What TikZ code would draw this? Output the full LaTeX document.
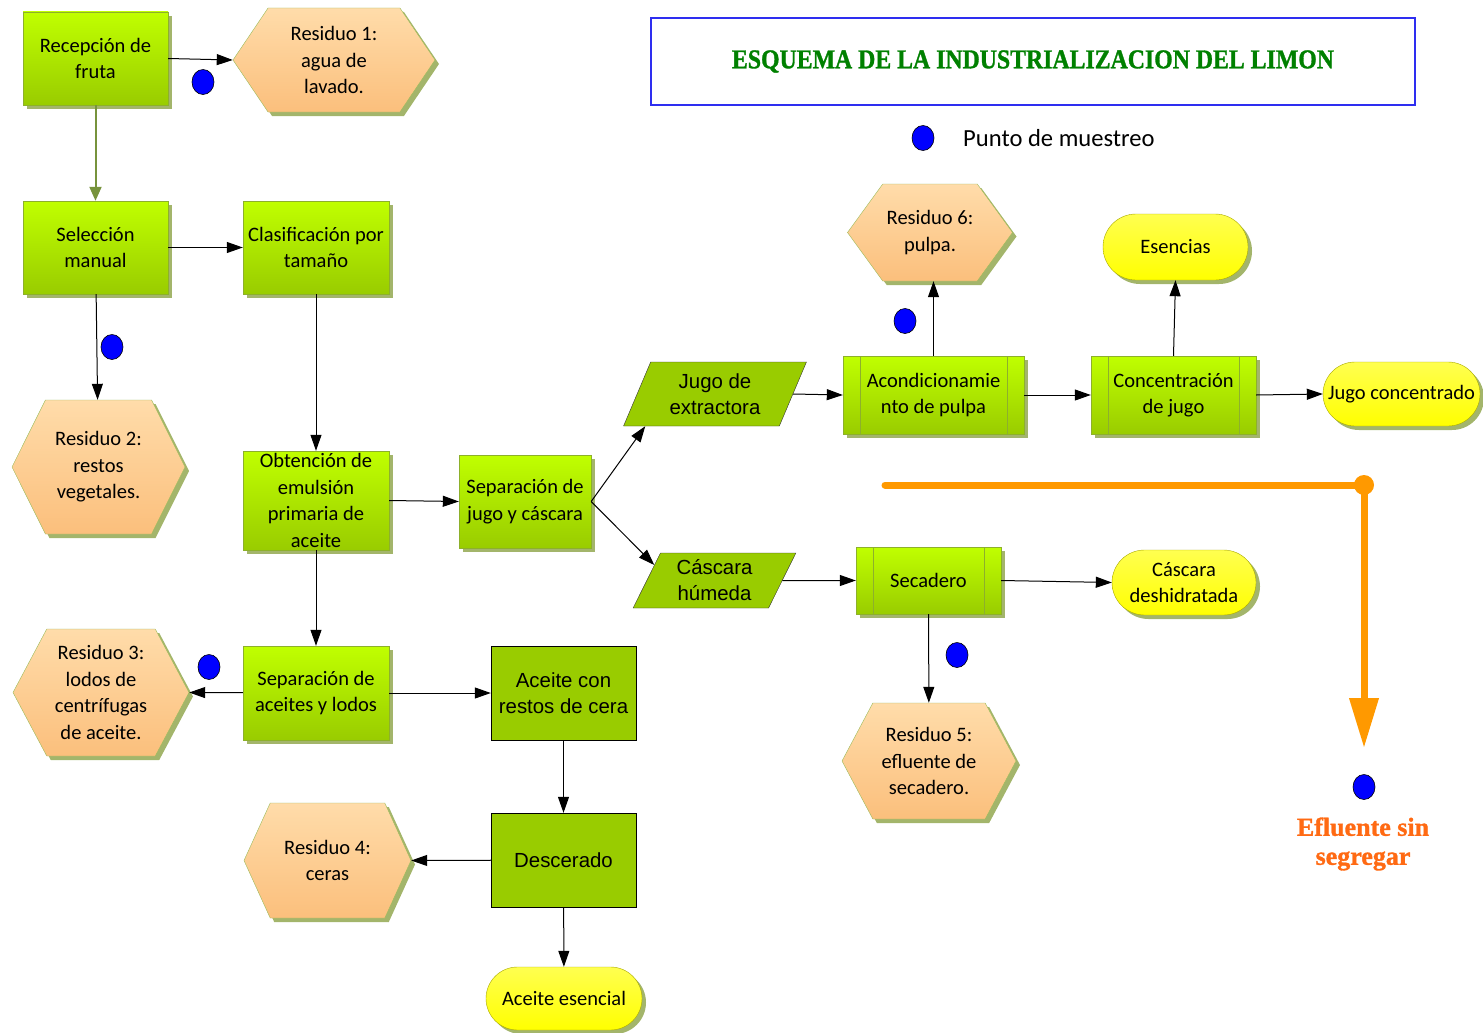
\documentclass[tikz,border=0pt]{standalone}
\usepackage{fontspec}
\usepackage{graphicx}
\setmainfont{Carlito}
\newfontfamily\arialf{Liberation Sans}
\newfontfamily\cooperf[BoldFeatures={FakeBold=1.2}]{Liberation Serif}
\usetikzlibrary{shapes.geometric,shapes.symbols,shapes.misc,arrows.meta,shadows,calc}

\definecolor{verdeA}{HTML}{C0FF00}
\definecolor{verdeB}{HTML}{99CC00}
\definecolor{verdeC}{HTML}{99CC00}
\definecolor{bordeV}{HTML}{8DB02B}
\definecolor{naranjaA}{HTML}{FFDCAA}
\definecolor{naranjaB}{HTML}{FBBF7C}
\definecolor{bordeR}{HTML}{9BBB59}
\definecolor{amarilloA}{HTML}{FFFF50}
\definecolor{amarilloB}{HTML}{FFFF00}
\definecolor{bordeY}{HTML}{A8A800}
\definecolor{sombra}{HTML}{A3B56B}
\definecolor{azulM}{HTML}{0000FF}
\definecolor{azulT}{HTML}{2E2EF0}
\definecolor{verdeT}{HTML}{008000}
\definecolor{naranjaL}{HTML}{FF9900}
\definecolor{naranjaT}{HTML}{FF6A13}
\definecolor{oliva}{HTML}{77933C}

\newcommand\txtbox{\fontsize{20.5}{26.5}\selectfont}
\newcommand\txtarial{\arialf\fontsize{20.4}{26}\selectfont}

\tikzset{
  sombreado/.style={drop shadow={shadow xshift=4pt,shadow yshift=-4pt,fill=sombra,opacity=1}},
  proceso/.style={draw=bordeV, top color=verdeA, bottom color=verdeB, inner sep=0,
    minimum width=145, minimum height=93, align=center, font=\txtbox, sombreado},
  predef/.style={proceso, path picture={
      \draw[bordeV] ([xshift=17pt]path picture bounding box.north west) -- ([xshift=17pt]path picture bounding box.south west)
        ([xshift=-17pt]path picture bounding box.north east) -- ([xshift=-17pt]path picture bounding box.south east);}},
  operacion/.style={draw=black, fill=verdeC, inner sep=0, minimum width=145, minimum height=94,
    align=center, font=\txtarial},
  corriente/.style={trapezium, trapezium left angle=65, trapezium right angle=115, trapezium stretches=true,
    draw=black!80, fill=verdeC, inner sep=0, align=center, font=\txtarial},
  residuo/.style={signal, signal to=west and east, draw=bordeR, top color=naranjaA, bottom color=naranjaB,
    inner sep=0, align=center, font=\txtbox, sombreado},
  producto/.style={rounded rectangle, draw=bordeY, top color=amarilloA, bottom color=amarilloB,
    inner sep=0, align=center, font=\txtbox, sombreado},
  muestreo/.style={ellipse, draw=black, line width=0.6pt, fill=azulM, minimum width=22, minimum height=25, inner sep=0},
  flujo/.style={-{Triangle[length=16pt,width=11pt]}, line width=1pt},
}

\begin{document}
\begin{tikzpicture}[x=1pt,y=-1pt]
\useasboundingbox (0,0) rectangle (1483,1033);

% titulo y leyenda
\node[draw=azulT, line width=1.3pt, minimum width=764, minimum height=87, inner sep=0] (titulo) at (1033,61.5)
  {\color{verdeT}\resizebox{602pt}{18pt}{\cooperf\bfseries ESQUEMA DE LA INDUSTRIALIZACION DEL LIMON}};
\node[muestreo] (leyenda) at (923,138) {};
\node[anchor=west, inner sep=0, font=\fontsize{24.6}{28}\selectfont] (leyendatxt) at (963,138) {Punto de muestreo};

% procesos
\node[proceso] (rec) at (95.5,58.5) {Recepción de\\fruta};
\node[proceso] (sel) at (95.5,247.5) {Selección\\manual};
\node[proceso, minimum width=146] (clas) at (316,247.5) {Clasificación por\\tamaño};
\node[proceso, minimum width=146, minimum height=99] (obt) at (316,500.5) {Obtención de\\emulsión\\primaria de\\aceite};
\node[proceso, minimum width=132] (sepj) at (525,501.5) {Separación de\\jugo y cáscara};
\node[proceso, minimum width=146, minimum height=94] (sepa) at (316,693) {Separación de\\aceites y lodos};
\node[operacion] (acer) at (563.5,693) {Aceite con\\restos de cera};
\node[operacion] (desc) at (563.5,860) {Descerado};
\node[predef, minimum width=181, minimum height=78] (acond) at (933.5,395) {Acondicionamie\\nto de pulpa};
\node[predef, minimum width=165, minimum height=78] (conc) at (1173.5,395) {Concentración\\de jugo};
\node[predef, minimum width=145, minimum height=67] (secad) at (928.5,580.5) {Secadero};

% corrientes
\node[corriente, minimum width=183, minimum height=64] (jugo) at (715,394) {Jugo de\\extractora};
\node[corriente, minimum width=163, minimum height=55] (casc) at (714.5,580.5) {Cáscara\\húmeda};

% residuos
\node[residuo, minimum width=202, minimum height=104, signal pointer angle=112] (res1) at (334,60) {Residuo 1:\\agua de\\lavado.};
\node[residuo, minimum width=173, minimum height=134, signal pointer angle=127] (res2) at (98.5,467) {Residuo 2:\\restos\\vegetales.};
\node[residuo, minimum width=176, minimum height=127, signal pointer angle=124] (res3) at (101,692.5) {Residuo 3:\\lodos de\\centrífugas\\de aceite.};
\node[residuo, minimum width=167, minimum height=115, signal pointer angle=131] (res4) at (327.5,860.5) {Residuo 4:\\ceras};
\node[residuo, minimum width=174, minimum height=116, signal pointer angle=124] (res5) at (929,761) {Residuo 5:\\efluente de\\secadero.};
\node[residuo, minimum width=165, minimum height=97, signal pointer angle=108] (res6) at (930,232.5) {Residuo 6:\\pulpa.};

% productos
\node[producto, minimum width=145, minimum height=66] (esen) at (1175.5,247) {Esencias};
\node[producto, minimum width=157, minimum height=64] (jcon) at (1401.5,394) {Jugo concentrado};
\node[producto, minimum width=144, minimum height=65] (cdes) at (1184,582.5) {Cáscara\\deshidratada};
\node[producto, minimum width=156, minimum height=63] (aces) at (564,998.5) {Aceite esencial};

% puntos de muestreo
\node[muestreo] (m1) at (203,82) {};
\node[muestreo] (m2) at (112,347) {};
\node[muestreo] (m3) at (209,667) {};
\node[muestreo] (m4) at (905,321) {};
\node[muestreo] (m5) at (957,655) {};
\node[muestreo] (m6) at (1364,787) {};

% flujos
\draw[-{Triangle[length=14pt,width=12pt]}, line width=2pt, oliva] (rec) -- (sel);
\draw[flujo] (rec.east) -- (res1.west);
\draw[flujo] (sel) -- (clas);
\draw[flujo] (sel) -- (res2);
\draw[flujo] (clas) -- (obt);
\draw[flujo] (obt.east) -- (sepj.west);
\draw[flujo] (obt) -- (sepa);
\draw[flujo] (sepa) -- (res3.east);
\draw[flujo] (sepa) -- (acer);
\draw[flujo] (acer) -- (desc);
\draw[flujo] (desc) -- (res4.east);
\draw[flujo] (desc) -- (aces);
\draw[flujo] (sepj.east) -- ([xshift=22pt]jugo.bottom left corner);
\draw[flujo] (sepj.east) -- ($(casc.bottom left corner)!0.78!(casc.top left corner)$);
\draw[flujo] (jugo.east) -- (acond.west);
\draw[flujo] (acond.north) -- (acond.north |- res6.south);
\draw[flujo] (acond) -- (conc);
\draw[flujo] (conc.north) -- (esen.south);
\draw[flujo] (conc.east) -- (jcon.west);
\draw[flujo] (casc.east) -- (secad.west);
\draw[flujo] (secad.east) -- (cdes.west);
\draw[flujo] (secad) -- (res5);

% efluente sin segregar
\coordinate (o1) at (885,485);
\coordinate (o2) at (1364,485);
\coordinate (o3) at (1364,748);
\draw[naranjaL, line width=7pt, line cap=round, -{Triangle[length=50pt,width=28pt]}] (o1) -- (o2) -- (o3);
\fill[naranjaL] (o2) circle (10pt);
\node[font=\cooperf\bfseries\fontsize{26}{29}\selectfont, text=naranjaT, align=center] (efl) at (1363,844) {Efluente sin\\segregar};
\end{tikzpicture}
\end{document}
